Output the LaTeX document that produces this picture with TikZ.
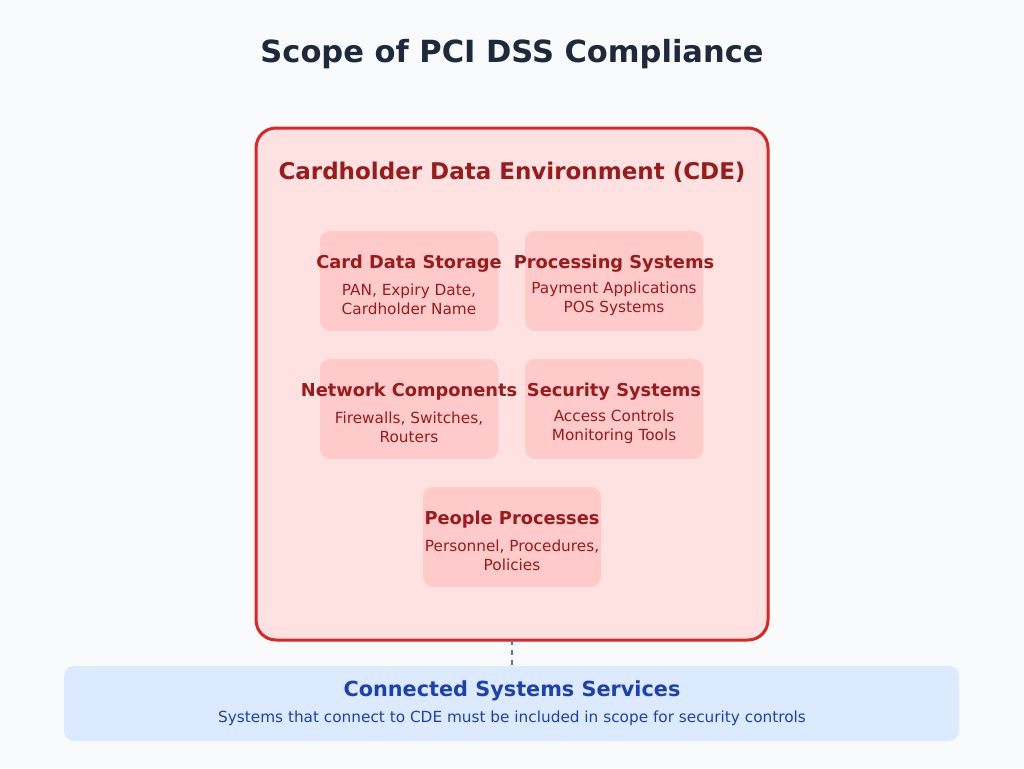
\documentclass[tikz,border=0pt]{standalone}
\usepackage{fontspec}
\setmainfont{DejaVu Sans}
\definecolor{bg}{HTML}{F8FAFC}
\definecolor{ttl}{HTML}{1E293B}
\definecolor{rd}{HTML}{DC2626}
\definecolor{rdf}{HTML}{FEE2E2}
\definecolor{rdt}{HTML}{991B1B}
\definecolor{cell}{HTML}{FECACA}
\definecolor{bl}{HTML}{DBEAFE}
\definecolor{blt}{HTML}{1E40AF}
\definecolor{gl}{HTML}{64748B}
\begin{document}
\begin{tikzpicture}[x=1pt,y=-1pt,
  hd/.style={font=\fontsize{17.8}{20}\selectfont\bfseries,text=rdt},
  sb/.style={font=\fontsize{15.3}{19}\selectfont,text=rdt,align=center}]
\fill[bg] (0,0) rectangle (1024,768);
\node[font=\fontsize{30.5}{34}\selectfont\bfseries,text=ttl] (title) at (512,54) {Scope of PCI DSS Compliance};
\draw[rd,line width=3pt,fill=rdf,rounded corners=20pt] (256,128) rectangle (768,640);
\coordinate (cdeb) at (512,640);
\node[font=\fontsize{23}{26}\selectfont\bfseries,text=rdt] (cdet) at (512,172) {Cardholder Data Environment (CDE)};
\foreach \n/\x/\y/\h/\s in {a/409/281/Card Data Storage/{PAN, Expiry Date,\\Cardholder Name},
  b/614/281/Processing Systems/{Payment Applications\\POS Systems},
  c/409/409/Network Components/{Firewalls, Switches,\\Routers},
  d/614/409/Security Systems/{Access Controls\\Monitoring Tools},
  e/512/537/People Processes/{Personnel, Procedures,\\Policies}}{
  \fill[cell,rounded corners=10pt] (\x-89,\y-50) rectangle (\x+89,\y+50);
  \node[hd] (\n h) at (\x,\y-17) {\h};
  \node[sb] (\n s) at (\x,\y+18) {\s};
}
\fill[bl,rounded corners=10pt] (64,666) rectangle (959,741);
\coordinate (bt) at (512,666);
\draw[gl,line width=2pt,dash pattern=on 5pt off 5pt] (cdeb) -- (bt);
\node[font=\fontsize{20.8}{24}\selectfont\bfseries,text=blt] (bh) at (512,691) {Connected Systems Services};
\node[font=\fontsize{15.3}{18}\selectfont,text=blt] (bs) at (512,718) {Systems that connect to CDE must be included in scope for security controls};
\end{tikzpicture}
\end{document}
